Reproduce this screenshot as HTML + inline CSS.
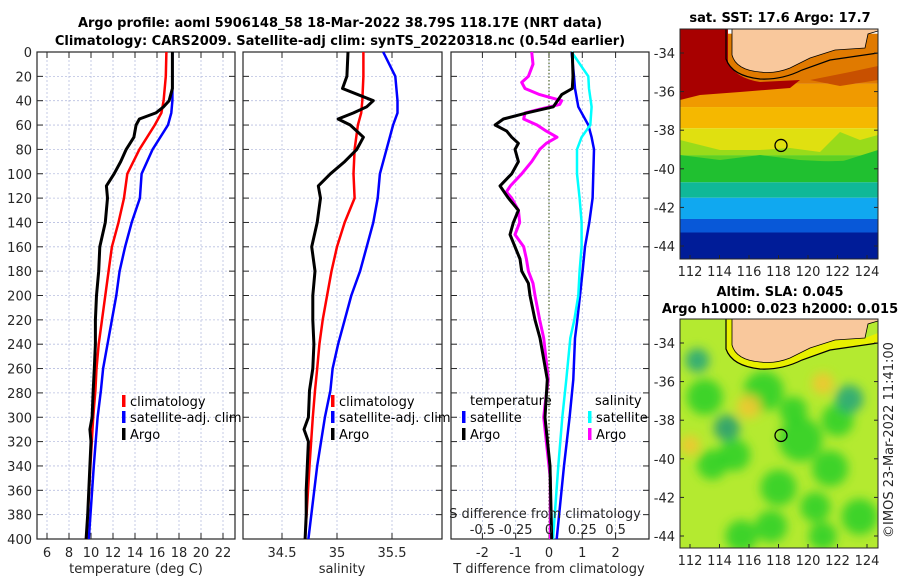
<!DOCTYPE html>
<html><head><meta charset="utf-8">
<style>
body{margin:0;background:#fff;}
svg{display:block;font-family:"DejaVu Sans","Liberation Sans",sans-serif;}
.tk{font-size:13px;fill:#262626;}
.ttl{font-size:13px;font-weight:bold;fill:#000;}
.lg{font-size:13px;fill:#000;}
.grid{stroke:#b8bfe0;stroke-width:0.8;stroke-dasharray:2,2;}
</style></head>
<body>
<svg id="fig" width="900" height="580" viewBox="0 0 900 580" xmlns="http://www.w3.org/2000/svg">
<text class="ttl" x="340" y="27" text-anchor="middle">Argo profile: aoml 5906148_58 18-Mar-2022 38.79S 118.17E (NRT data)</text>
<text class="ttl" x="340" y="45" text-anchor="middle">Climatology: CARS2009. Satellite-adj clim: synTS_20220318.nc (0.54d earlier)</text>
<g id="p1"></g>
<g id="p2"></g>
<g id="p3"></g>
<g id="m1"></g>
<g id="m2"></g>
<text class="tk" transform="translate(893,440) rotate(-90)" text-anchor="middle">©IMOS 23-Mar-2022 11:41:00</text>
</svg>
<script>
// ---- depth grids and profile data ----
const depthA = [0,20,30,40,45,50,55,60,70,80,90,100,110,120,140,160,180,200,220,240,260,278,300,310,320,340,360,380,400];
const tempArgo = [17.4,17.4,17.4,17.1,16.6,15.9,14.4,14.1,13.9,13.2,12.7,12.1,11.4,11.5,11.3,10.8,10.7,10.5,10.4,10.4,10.3,10.2,10.1,9.9,10.0,9.9,9.8,9.7,9.55];
const salArgo = [35.10,35.09,35.05,35.33,35.27,35.15,35.01,35.12,35.24,35.18,35.07,34.94,34.83,34.85,34.82,34.77,34.80,34.78,34.78,34.79,34.78,34.75,34.74,34.70,34.74,34.73,34.72,34.72,34.71];
const depthC = [0,20,40,50,60,80,100,120,140,160,180,200,220,240,260,278,300,340,400];
const tempClim = [16.85,16.8,16.6,16.4,15.8,14.4,13.3,13.0,12.5,11.9,11.6,11.3,11.0,10.7,10.5,10.4,10.2,9.95,9.6];
const tempSat = [17.4,17.4,17.4,17.3,17.0,15.6,14.6,14.45,13.7,13.1,12.6,12.3,11.9,11.5,11.1,10.9,10.6,10.25,9.8];
const salClim = [35.24,35.24,35.23,35.22,35.19,35.16,35.15,35.16,35.07,35.0,34.95,34.91,34.87,34.84,34.82,34.80,34.78,34.75,34.71];
const salSat = [35.42,35.53,35.55,35.55,35.51,35.45,35.39,35.37,35.33,35.27,35.21,35.13,35.07,35.01,34.96,34.94,34.89,34.82,34.74];
// difference panel
const depthD = [0,20,30,45,60,70,80,100,120,140,160,180,200,220,235,269,300,340,400];
const dTsat = [0.68,0.75,0.78,0.88,1.18,1.28,1.35,1.33,1.31,1.21,1.08,1.01,0.93,0.85,0.78,0.73,0.62,0.45,0.23];
const dSsat = [0.17,0.295,0.30,0.32,0.31,0.245,0.21,0.21,0.23,0.245,0.245,0.23,0.22,0.19,0.16,0.13,0.10,0.07,0.03];
const depthTA = [0,20,30,35,45,50,55,60,65,70,75,80,90,100,110,120,130,140,150,160,170,180,190,200,220,235,269,300,340,400];
const dTargo = [0.7,0.72,0.7,0.38,0.13,-0.67,-1.37,-1.62,-1.27,-1.12,-0.92,-1.02,-0.92,-1.12,-1.47,-1.22,-0.92,-1.07,-1.17,-1.02,-0.87,-0.82,-0.62,-0.57,-0.42,-0.27,-0.05,-0.12,0.03,0.08];
const depthSA = [0,10,20,25,30,35,40,43,47,50,55,60,65,70,75,80,90,100,110,115,120,130,140,150,160,170,180,190,200,220,235,269,290,300,320,350,400];
const dSargo = [-0.13,-0.12,-0.155,-0.205,-0.18,-0.07,0.095,0.08,-0.07,-0.18,-0.19,-0.09,-0.02,0.06,-0.02,-0.07,-0.13,-0.205,-0.29,-0.32,-0.28,-0.23,-0.22,-0.255,-0.19,-0.17,-0.155,-0.12,-0.105,-0.07,-0.04,-0.005,-0.03,-0.04,-0.02,0.01,0.01];
// tick labels
const depthTicks = [0,20,40,60,80,100,120,140,160,180,200,220,240,260,280,300,320,340,360,380,400];
const tTicks = [6,8,10,12,14,16,18,20,22];
const sTicks = [34.5,35,35.5];
const dTTicks = [-2,-1,0,1,2];
const dSTicks = [-0.5,-0.25,0,0.25,0.5];
const lonTicks = [112,114,116,118,120,122,124];
const latTicks = [-34,-36,-38,-40,-42,-44];
const argoLon = 118.17, argoLat = -38.79;

const NS='http://www.w3.org/2000/svg';
function mk(tag,attrs,parent){const e=document.createElementNS(NS,tag);for(const k in attrs)e.setAttribute(k,attrs[k]);parent.appendChild(e);return e;}
const Y0=52,Y1=539;
const yD = d => Y0 + d*(Y1-Y0)/400;

function panel(g,x0,x1,xs,xticks){
  for(const v of xticks){const x=xs(v);
    const l=mk('line',{x1:x,x2:x,y1:Y0,y2:Y1,class:'grid'},g);
    
    }
  for(const d of depthTicks){const y=yD(d);
    const l=mk('line',{x1:x0,x2:x1,y1:y,y2:y,class:'grid'},g);
    
    
    mk('line',{x1:x0,x2:x0+6,y1:y,y2:y,stroke:'#262626'},g);
    mk('line',{x1:x1-6,x2:x1,y1:y,y2:y,stroke:'#262626'},g);}
  for(const v of xticks){const x=xs(v);
    mk('line',{x1:x,x2:x,y1:Y1,y2:Y1-6,stroke:'#262626'},g);
    mk('line',{x1:x,x2:x,y1:Y0,y2:Y0+6,stroke:'#262626'},g);}
  const r=mk('rect',{x:x0,y:Y0,width:x1-x0,height:Y1-Y0,fill:'none',stroke:'#262626','stroke-width':1.2},g);
  
  
}
function line(g,xs,vals,depths,color,w,name){
  const pts=vals.map((v,i)=>xs(v).toFixed(1)+','+yD(depths[i]).toFixed(1)).join(' ');
  const p=mk('polyline',{points:pts,fill:'none',stroke:color,'stroke-width':w,'stroke-linejoin':'round'},g);
  
  
}
function txt(g,x,y,s,anchor,cls,name){const t=mk('text',{x:x,y:y,'text-anchor':anchor,class:cls},g);t.textContent=s;
  
  return t;}
function legend(g,x,y,color,label){mk('rect',{x:x-2,y:y-6,width:3.5,height:12,fill:color},g);
  txt(g,x+6,y+5,label,'start','lg','legend-entry');}

// Panel 1
const p1=document.getElementById('p1');
const xT = v => 47 + (v-6)*11;
panel(p1,37,235,xT,tTicks);
for(const d of depthTicks) txt(p1,32,yD(d)+5,String(d),'end','tk','y-tick-label');
for(const v of tTicks) txt(p1,xT(v),557,String(v),'middle','tk','x-tick-label');
txt(p1,136,573,'temperature (deg C)','middle','tk','x-axis-title');
line(p1,xT,tempClim,depthC,'#ff0000',2.5,'climatology-temperature-line');
line(p1,xT,tempSat,depthC,'#0000ff',2.5,'satellite-temperature-line');
line(p1,xT,tempArgo,depthA,'#000000',3,'argo-temperature-line');
legend(p1,124,401,'#ff0000','climatology');
legend(p1,124,417,'#0000ff','satellite-adj. clim');
legend(p1,124,434,'#000000','Argo');

// Panel 2
const p2=document.getElementById('p2');
const xS = v => 337 + (v-35)*110;
panel(p2,243,442,xS,sTicks);
for(const v of sTicks) txt(p2,xS(v),557,String(v),'middle','tk','x-tick-label');
txt(p2,342,573,'salinity','middle','tk','x-axis-title');
line(p2,xS,salClim,depthC,'#ff0000',2.5,'climatology-salinity-line');
line(p2,xS,salSat,depthC,'#0000ff',2.5,'satellite-salinity-line');
line(p2,xS,salArgo,depthA,'#000000',3,'argo-salinity-line');
legend(p2,333,401,'#ff0000','climatology');
legend(p2,333,417,'#0000ff','satellite-adj. clim');
legend(p2,333,434,'#000000','Argo');

// Panel 3
const p3=document.getElementById('p3');
const xDT = v => 549 + v*33.3;
const xDS = v => 549 + v*133.2;
panel(p3,451,649,xDT,dTTicks);
const zl=mk('line',{x1:549,x2:549,y1:Y0,y2:Y1,stroke:'#556b2f','stroke-width':1.2,'stroke-dasharray':'1.5,2'},p3);


for(const v of dTTicks) txt(p3,xDT(v),557,String(v),'middle','tk','t-diff-tick-label');
txt(p3,549,573,'T difference from climatology','middle','tk','t-diff-axis-title');
line(p3,xDT,dTsat,depthD,'#0000ff',2.5,'satellite-t-diff-line');
line(p3,xDS,dSsat,depthD,'#00ffff',2.5,'satellite-s-diff-line');
line(p3,xDS,dSargo,depthSA,'#ff00ff',3,'argo-s-diff-line');
line(p3,xDT,dTargo,depthTA,'#000000',3,'argo-t-diff-line');
txt(p3,545,518,'S difference from climatology','middle','tk','s-diff-axis-title');
for(const v of dSTicks) txt(p3,xDS(v),534,String(v),'middle','tk','s-diff-tick-label');
txt(p3,470,405,'temperature','start','lg','legend-title-temperature');
legend(p3,464,417,'#0000ff','satellite');
legend(p3,464,434,'#000000','Argo');
txt(p3,595,405,'salinity','start','lg','legend-title-salinity');
legend(p3,590,417,'#00ffff','satellite');
legend(p3,590,434,'#ff00ff','Argo');

// ---- maps ----
const MX0=680,MX1=878;
const lonX = lon => 690 + (lon-112)*14.75;
function mapAxes(g,top,bot,latY){
  for(const v of latTicks){const y=latY(v);
    txt(g,675,y+5,String(v),'end','tk','lat-tick-label');
    mk('line',{x1:MX0,x2:MX0+4,y1:y,y2:y,stroke:'#262626'},g);
    mk('line',{x1:MX1-4,x2:MX1,y1:y,y2:y,stroke:'#262626'},g);}
  for(const v of lonTicks){const x=lonX(v);
    txt(g,x,bot+17,String(v),'middle','tk','lon-tick-label');
    mk('line',{x1:x,x2:x,y1:bot,y2:bot-4,stroke:'#262626'},g);}
  const r=mk('rect',{x:MX0,y:top,width:MX1-MX0,height:bot-top,fill:'none',stroke:'#262626','stroke-width':1},g);
  
  
  const c=mk('ellipse',{cx:lonX(argoLon),cy:latY(argoLat),rx:6,ry:6,fill:'none',stroke:'#000','stroke-width':1.3},g);
  
  
}
function land(g,o,shelf){
  if(shelf){mk('path',{d:`M726,${o} L726,${o+30} Q732,${o+47} 760,${o+50} Q782,${o+51} 802,${o+41} L830,${o+31} L878,${o+24} L878,${o+14} L865,${o+19} L835,${o+21} L810,${o+29} L790,${o+39} Q775,${o+45} 760,${o+43} Q736,${o+41} 732,${o+26} L732,${o} Z`,fill:shelf},g);}
  const l=mk('path',{d:`M732,${o} L732,${o+26} Q736,${o+41} 760,${o+43} Q775,${o+45} 790,${o+39} L810,${o+29} L835,${o+21} L865,${o+19} L868,${o+5} L878,${o+2} L878,${o} Z`,fill:'#f9c89c',stroke:'#000','stroke-width':0.8},g);
  
  
  mk('path',{d:`M726,${o} L726,${o+30} Q732,${o+47} 760,${o+50} Q782,${o+51} 802,${o+41} L830,${o+31} L878,${o+24}`,fill:'none',stroke:'#000','stroke-width':1.2},g);
}

// Map 1: SST bands (lat ranges & colours)
const sstBandLat = [-33,-35.6,-36.8,-37.9,-39.3,-40.7,-41.5,-42.6,-43.3,-44.8];
const sstBandCol = ['#e07a00','#f09a00','#f5b800','#e0e010','#20c030','#10b898','#10a8f0','#0858d8','#001c98'];
const m1=document.getElementById('m1');
const lat1 = v => 53 + (-34-v)*19.3;
txt(m1,780,22,'sat. SST: 17.6 Argo: 17.7','middle','ttl','sst-map-title');
const cl1=mk('clipPath',{id:'c1'},m1); mk('rect',{x:MX0,y:29,width:MX1-MX0,height:230},cl1);
const g1=mk('g',{'clip-path':'url(#c1)'},m1);
for(let i=0;i<sstBandCol.length;i++){
  const y0=lat1(sstBandLat[i]), y1=lat1(sstBandLat[i+1]);
  const r=mk('rect',{x:MX0,y:y0,width:MX1-MX0,height:y1-y0,fill:sstBandCol[i]},g1);
  
  
}
mk('path',{d:'M680,29 L728,29 L728,62 Q735,78 760,82 L800,80 L790,88 L740,92 L700,95 L680,100 Z',fill:'#a80000'},g1);
mk('path',{d:'M810,80 L850,72 L878,66 L878,80 L840,86 Z',fill:'#c85000'},g1);
mk('path',{d:'M680,140 L700,145 L720,150 L760,150 L790,148 L820,152 L840,132 L860,140 L878,135 L878,160 L680,165 Z',fill:'#7ad820','opacity':0.7},g1);
mk('path',{d:'M680,155 L720,160 L760,155 L800,160 L840,162 L878,150 L878,170 L680,170 Z',fill:'#20c030'},g1);
land(g1,29,null);
mapAxes(m1,29,259,lat1);

// Map 2: SLA
const m2=document.getElementById('m2');
const lat2 = v => 343 + (-34-v)*19.3;
txt(m2,780,296,'Altim. SLA: 0.045','middle','ttl','sla-map-title-1');
txt(m2,780,313,'Argo h1000: 0.023 h2000: 0.015','middle','ttl','sla-map-title-2');
const blobLon = [113,117,119.5,121.5,123.5,113.5,117.5,120.5,115,122,118,115.5,119,121,112.5,114.5,122.8,116,121,112];
const blobLat = [-36.8,-36.5,-39,-40.5,-43,-40.3,-43.5,-42.5,-39.8,-38,-41.5,-44,-37.5,-44,-34.9,-38.4,-36.9,-37.3,-36.1,-39.3];
const blobCol = ['#30d028','#30d028','#30d028','#30d028','#30d028','#30d028','#30d028','#30d028','#30d028','#30d028','#30d028','#30d028','#30d028','#30d028','#28a878','#28a070','#28a878','#f0c830','#f0c830','#f0c830'];
const blobR = [18,20,22,18,18,15,16,15,16,16,18,16,14,14,12,13,14,12,11,10];
const defs=mk('defs',{},m2);
const f=mk('filter',{id:'bl',x:'-50%',y:'-50%',width:'200%',height:'200%'},defs); mk('feGaussianBlur',{stdDeviation:5},f);
const cl2=mk('clipPath',{id:'c2'},m2); mk('rect',{x:MX0,y:319,width:MX1-MX0,height:229},cl2);
const g2=mk('g',{'clip-path':'url(#c2)'},m2);
mk('rect',{x:MX0,y:319,width:MX1-MX0,height:229,fill:'#b4ea30'},g2);
const gb=mk('g',{filter:'url(#bl)'},g2);
for(let i=0;i<blobLon.length;i++){
  const e=mk('circle',{cx:lonX(blobLon[i]),cy:lat2(blobLat[i]),r:blobR[i],fill:blobCol[i],opacity:0.9},gb);
  
  
}
land(g2,319,'#e8f000');
mapAxes(m2,319,548,lat2);
</script>
</body></html>
